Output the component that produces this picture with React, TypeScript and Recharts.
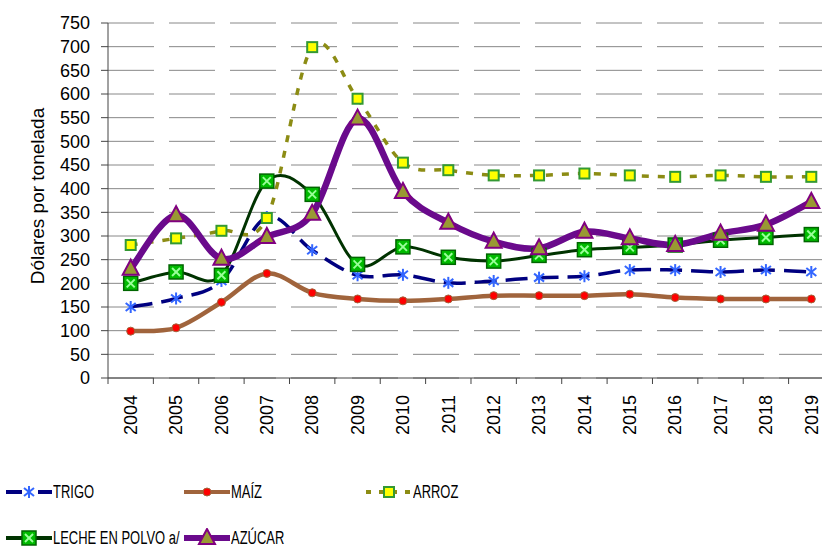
import { LineChart, Line, XAxis, YAxis, CartesianGrid, Legend } from "recharts";

const YEARS = [
  "2004", "2005", "2006", "2007", "2008", "2009", "2010", "2011",
  "2012", "2013", "2014", "2015", "2016", "2017", "2018", "2019",
];
const TRIGO = [150, 168, 205, 340, 270, 217, 218, 201, 205, 212, 215, 228, 228, 224, 228, 224];
const MAIZ = [99, 106, 160, 221, 180, 167, 163, 167, 174, 174, 174, 177, 170, 167, 167, 167];
const ARROZ = [281, 295, 311, 338, 699, 590, 455, 439, 428, 428, 432, 428, 425, 428, 425, 425];
const LECHE = [200, 224, 217, 416, 388, 240, 277, 255, 247, 259, 271, 276, 281, 291, 297, 303];
const AZUCAR = [231, 344, 252, 298, 347, 548, 393, 328, 288, 274, 309, 295, 281, 305, 324, 372];
const Y_TICKS = [0, 50, 100, 150, 200, 250, 300, 350, 400, 450, 500, 550, 600, 650, 700, 750];

const FONT = "Arial, 'Liberation Sans', sans-serif";
const HALF_BAND = 22.7;

const chartData = YEARS.map((year, i) => ({
  year,
  trigo: TRIGO[i],
  maiz: MAIZ[i],
  arroz: ARROZ[i],
  leche: LECHE[i],
  azucar: AZUCAR[i],
}));

// Excel-style smoothed line (Catmull-Rom as cubic beziers)
const excelSmooth = (context: any) => {
  let pts: number[][] = [];
  return {
    areaStart() {},
    areaEnd() {},
    lineStart() {
      pts = [];
    },
    point(x: number, y: number) {
      pts.push([+x, +y]);
    },
    lineEnd() {
      const n = pts.length;
      if (!n) return;
      context.moveTo(pts[0][0], pts[0][1]);
      for (let i = 0; i < n - 1; i++) {
        const p0 = pts[Math.max(i - 1, 0)];
        const p1 = pts[i];
        const p2 = pts[i + 1];
        const p3 = pts[Math.min(i + 2, n - 1)];
        context.bezierCurveTo(
          p1[0] + (p2[0] - p0[0]) / 6,
          p1[1] + (p2[1] - p0[1]) / 6,
          p2[0] - (p3[0] - p1[0]) / 6,
          p2[1] - (p3[1] - p1[1]) / 6,
          p2[0],
          p2[1]
        );
      }
    },
  };
};

const StarMark = ({ cx, cy }: any) => (
  <g stroke="#3366ff" strokeWidth={2}>
    <line x1={cx} y1={cy - 6} x2={cx} y2={cy + 6} />
    <line x1={cx - 5} y1={cy - 4} x2={cx + 5} y2={cy + 4} />
    <line x1={cx - 5} y1={cy + 4} x2={cx + 5} y2={cy - 4} />
  </g>
);

const DotMark = ({ cx, cy }: any) => (
  <circle cx={cx} cy={cy} r={4} fill="#ff0000" stroke="#a0643c" strokeWidth={1} />
);

const SquareMark = ({ cx, cy }: any) => (
  <rect x={cx - 5} y={cy - 5} width={10} height={10} fill="#ffff00" stroke="#339933" strokeWidth={2} />
);

const CrossMark = ({ cx, cy }: any) => (
  <g>
    <rect x={cx - 7} y={cy - 7} width={14} height={14} fill="#00bb00" stroke="#006600" strokeWidth={1.5} />
    <line x1={cx - 4} y1={cy - 4} x2={cx + 4} y2={cy + 4} stroke="#99ff99" strokeWidth={2} />
    <line x1={cx - 4} y1={cy + 4} x2={cx + 4} y2={cy - 4} stroke="#99ff99" strokeWidth={2} />
  </g>
);

const TriangleMark = ({ cx, cy }: any) => (
  <polygon
    points={`${cx},${cy - 9} ${cx - 8},${cy + 6} ${cx + 8},${cy + 6}`}
    fill="#999933"
    stroke="#800080"
    strokeWidth={2}
  />
);

const SERIES = [
  { key: "trigo", label: "TRIGO", color: "#000080", width: 3.5, dash: "22 9", Mark: StarMark, legendDash: "16 16" },
  { key: "maiz", label: "MAÍZ", color: "#a0643c", width: 4.5, dash: undefined, Mark: DotMark, legendDash: undefined },
  { key: "arroz", label: "ARROZ", color: "#8c8c14", width: 3.5, dash: "7 9", Mark: SquareMark, legendDash: "5 8" },
  { key: "leche", label: "LECHE EN POLVO a/", color: "#003300", width: 3, dash: undefined, Mark: CrossMark, legendDash: undefined },
  { key: "azucar", label: "AZÚCAR", color: "#6a0a8c", width: 6.5, dash: undefined, Mark: TriangleMark, legendDash: undefined },
];

const YearTick = ({ x, y, payload }: any) => (
  <g>
    <line x1={x - HALF_BAND} y1={y} x2={x - HALF_BAND} y2={y + 6} stroke="#444" />
    <text
      x={x}
      y={y + 17}
      transform={`rotate(-90, ${x}, ${y + 17})`}
      textAnchor="end"
      dy="0.35em"
      fontSize={18}
      fontFamily={FONT}
      fill="#000"
    >
      {payload.value}
    </text>
  </g>
);

const renderLegend = () => {
  const rows = [
    [SERIES[0], SERIES[1], SERIES[2]],
    [SERIES[3], SERIES[4]],
  ];
  return (
    <div style={{ paddingLeft: 6 }}>
      {rows.map((row, r) => (
        <div key={r} style={{ display: "flex", height: 46, alignItems: "center" }}>
          {row.map((s, i) => (
            <div
              key={s.key}
              style={{ display: "flex", alignItems: "center", flex: "none", width: i === 0 ? 178 : 182 }}
            >
              <svg width={46} height={20} style={{ flex: "none", display: "block" }}>
                <line
                  x1={0}
                  y1={10}
                  x2={46}
                  y2={10}
                  stroke={s.color}
                  strokeWidth={s.key === "azucar" ? 6 : 4}
                  strokeDasharray={s.legendDash}
                />
                <s.Mark cx={23} cy={10} />
              </svg>
              <span
                style={{
                  display: "inline-block",
                  fontFamily: FONT,
                  fontSize: 18,
                  color: "#000",
                  marginLeft: 1,
                  whiteSpace: "nowrap",
                  transform: "scaleX(0.72)",
                  transformOrigin: "left center",
                }}
              >
                {s.label}
              </span>
            </div>
          ))}
        </div>
      ))}
    </div>
  );
};

export default function App() {
  return (
    <div
      style={{
        position: "absolute",
        left: 0,
        top: 0,
        width: 822,
        height: 550,
        overflow: "hidden",
        background: "#fff",
      }}
    >
      <LineChart
        width={850}
        height={550}
        data={chartData}
        margin={{ top: 23, right: 16, left: 0, bottom: 0 }}
      >
        <CartesianGrid vertical={false} stroke="#888" strokeDasharray="46 15" />
        <XAxis
          dataKey="year"
          interval={0}
          height={172}
          padding={{ left: HALF_BAND, right: HALF_BAND }}
          tickSize={0}
          tickMargin={0}
          tickLine={false}
          axisLine={{ stroke: "#444" }}
          tick={<YearTick />}
        />
        <YAxis
          domain={[0, 750]}
          ticks={Y_TICKS}
          interval={0}
          width={108}
          tickSize={7}
          tickMargin={11}
          axisLine={{ stroke: "#444" }}
          tickLine={{ stroke: "#444" }}
          tick={{ fill: "#000", fontSize: 18, fontFamily: FONT }}
          label={() => (
            <text
              x={37}
              y={196}
              transform="rotate(-90, 37, 196)"
              textAnchor="middle"
              dy="0.35em"
              fontSize={19}
              fontFamily={FONT}
              fill="#000"
            >
              Dólares por tonelada
            </text>
          )}
        />
        <Legend
          layout="horizontal"
          verticalAlign="middle"
          align="center"
          content={renderLegend}
          wrapperStyle={{ top: 469, left: 0, width: 822 }}
        />
        {SERIES.map((s) => (
          <Line
            key={s.key}
            dataKey={s.key}
            name={s.label}
            type={excelSmooth as any}
            stroke={s.color}
            strokeWidth={s.width}
            strokeDasharray={s.dash}
            dot={(p: any) => <s.Mark key={`${s.key}-${p.index}`} cx={p.cx} cy={p.cy} />}
            activeDot={false}
            isAnimationActive={false}
          />
        ))}
      </LineChart>
    </div>
  );
}
